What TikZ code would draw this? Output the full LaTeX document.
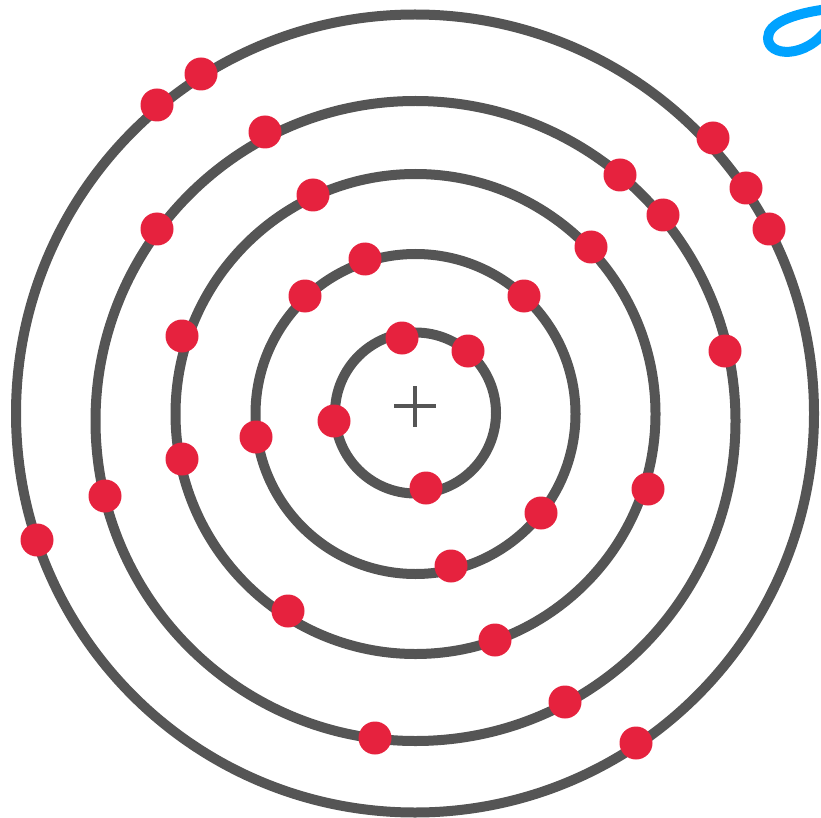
\documentclass[tikz,border=0pt]{standalone}
\definecolor{ringgray}{RGB}{85,85,85}
\definecolor{dotred}{RGB}{230,34,62}
\definecolor{penblue}{RGB}{0,162,255}
\begin{document}
\begin{tikzpicture}[x=1pt,y=-1pt,
  ring/.style={draw=ringgray,line width=10pt},
  electron/.style={circle,fill=dotred,inner sep=0pt,minimum size=33pt}]
\useasboundingbox (0,0) rectangle (821,818);
\draw[ring] (415.5,413) circle[radius=80.5];
\draw[ring] (415.5,414) circle[radius=160];
\draw[ring] (415.5,414) circle[radius=240];
\draw[ring] (415.5,421) circle[radius=320];
\draw[ring] (415,413.5) circle[radius=399];
% nucleus plus
\draw[ringgray,line width=4.5pt] (394,406) -- (436,406) (415,386) -- (415,427);
% ring 1
\foreach \p [count=\i] in {(402,338),(468,351),(334,421),(426,488)}
  \node[electron] (a\i) at \p {};
% ring 2
\foreach \p [count=\i] in {(365,259),(305,296),(524,296),(256,437),(541,513),(451,566)}
  \node[electron] (b\i) at \p {};
% ring 3
\foreach \p [count=\i] in {(313,195),(591,247),(182,336),(182,459),(648,489),(288,611),(495,640)}
  \node[electron] (c\i) at \p {};
% ring 4
\foreach \p [count=\i] in {(265,132),(620,175),(663,215),(157,229),(725,351),(105,496),(565,702),(375,738)}
  \node[electron] (d\i) at \p {};
% ring 5
\foreach \p [count=\i] in {(201,74),(157,105),(713,138),(746,188),(769,229),(37,540),(636,743)}
  \node[electron] (e\i) at \p {};
% blue pen stroke
\draw[penblue,line width=10pt,line cap=round] (828,9) .. controls (790,14) and (768,24) .. (768,38) .. controls (768,57) and (806,59) .. (828,28);
\end{tikzpicture}
\end{document}
